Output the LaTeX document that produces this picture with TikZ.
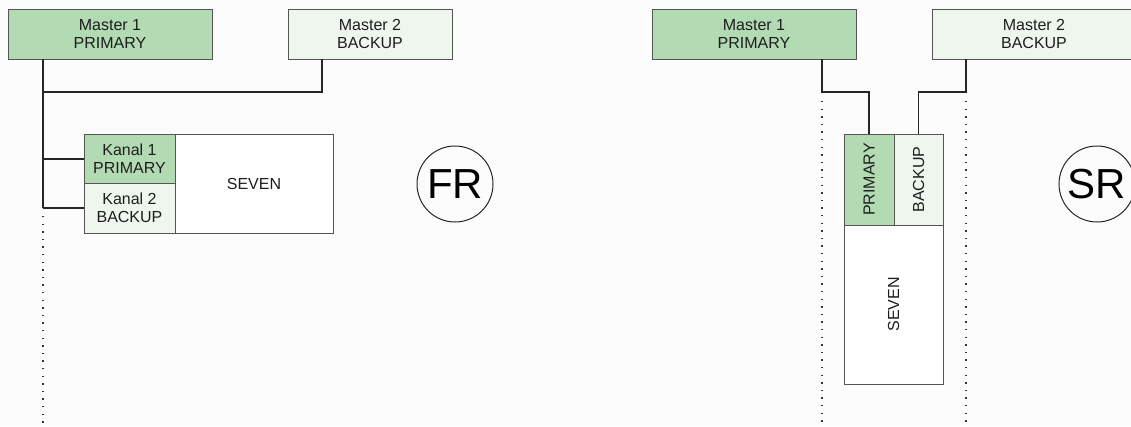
\documentclass[tikz,border=0pt]{standalone}
\usepackage{fontspec}
\setmainfont{Liberation Sans}
\definecolor{prim}{HTML}{B3DBB3}
\definecolor{back}{HTML}{EEF6EE}
\definecolor{bord}{HTML}{555555}
\definecolor{txt}{HTML}{1E1E1E}
\begin{document}
\begin{tikzpicture}[x=1pt,y=-1pt,
  lbl/.style={text=txt,font=\fontsize{16}{18.5}\selectfont},
  box/.style={draw=bord,line width=0.9pt,rectangle,inner sep=0pt,align=center,lbl},
  primbox/.style={box,fill=prim},
  backbox/.style={box,fill=back},
  plainbox/.style={box,fill=white},
  wire/.style={draw=black!85,line width=1.6pt},
  dotline/.style={draw=black!80,line width=1.6pt,dash pattern=on 1.4pt off 6.2pt},
  mode/.style={circle,draw=black!85,line width=1pt,minimum size=76pt,inner sep=0pt,font=\fontsize{42}{44}\selectfont,text=black}]
\useasboundingbox (0,0) rectangle (1131,426);
\fill[white!99!black] (0,0) rectangle (1131,426);
\begin{scope}
\clip (0,0) rectangle (1131,426);
% ---- left (FR)
\node[primbox,minimum width=204pt,minimum height=50pt] (lm1) at (110,34) {Master 1\\PRIMARY};
\node[backbox,minimum width=164pt,minimum height=50pt] (lm2) at (370,34) {Master 2\\BACKUP};
\node[primbox,minimum width=91pt,minimum height=49pt] (lk1) at (129.5,158.5) {Kanal 1\\PRIMARY};
\node[backbox,minimum width=91pt,minimum height=50pt] (lk2) at (129.5,208) {Kanal 2\\BACKUP};
\node[plainbox,minimum width=158pt,minimum height=99pt] (ls) at (254,183.5) {SEVEN};
\node[mode] (fr) at (455,184) {FR};
\coordinate (la) at (43,59);
\coordinate (lj) at (43,92);
\coordinate (lb1) at (43,159);
\coordinate (lb2) at (43,208);
\coordinate (lm2s) at (322,59);
\coordinate (ld1) at (43,216);
\coordinate (ld2) at (43,426);
\draw[wire] (la) -- (lb2);
\draw[wire] (lm2s) |- (lj);
\draw[wire] (lb1) -- (lb1 -| lk1.west);
\draw[wire] (lb2) -- (lk2.west);
\draw[dotline] (ld1) -- (ld2);
% ---- right (SR)
\node[primbox,minimum width=204pt,minimum height=50pt] (rm1) at (754,34) {Master 1\\PRIMARY};
\node[backbox,minimum width=204pt,minimum height=50pt] (rm2) at (1034,34) {Master 2\\BACKUP};
\node[primbox,minimum width=50pt,minimum height=91pt] (rp) at (869,179.5) {};
\node[rotate=90,lbl] at (rp) {PRIMARY};
\node[backbox,minimum width=49pt,minimum height=91pt] (rb) at (918.5,179.5) {};
\node[rotate=90,lbl] at (rb) {BACKUP};
\node[plainbox,minimum width=99pt,minimum height=159pt] (rs) at (893.5,304.5) {};
\node[rotate=90,lbl] at (rs) {SEVEN};
\node[mode] (sr) at (1097,184) {SR};
\coordinate (ra) at (822,59);
\coordinate (rj1) at (869,92);
\coordinate (rc) at (966,59);
\coordinate (rj2) at (918.5,92);
\draw[wire] (ra) |- (rj1) -- (rp.north);
\draw[wire] (rc) |- (rj2) -- (rb.north);
\coordinate (rd1) at (822,101);
\coordinate (rd2) at (822,426);
\coordinate (rd3) at (966,101);
\coordinate (rd4) at (966,426);
\draw[dotline] (rd1) -- (rd2);
\draw[dotline] (rd3) -- (rd4);
\end{scope}
\end{tikzpicture}
\end{document}
